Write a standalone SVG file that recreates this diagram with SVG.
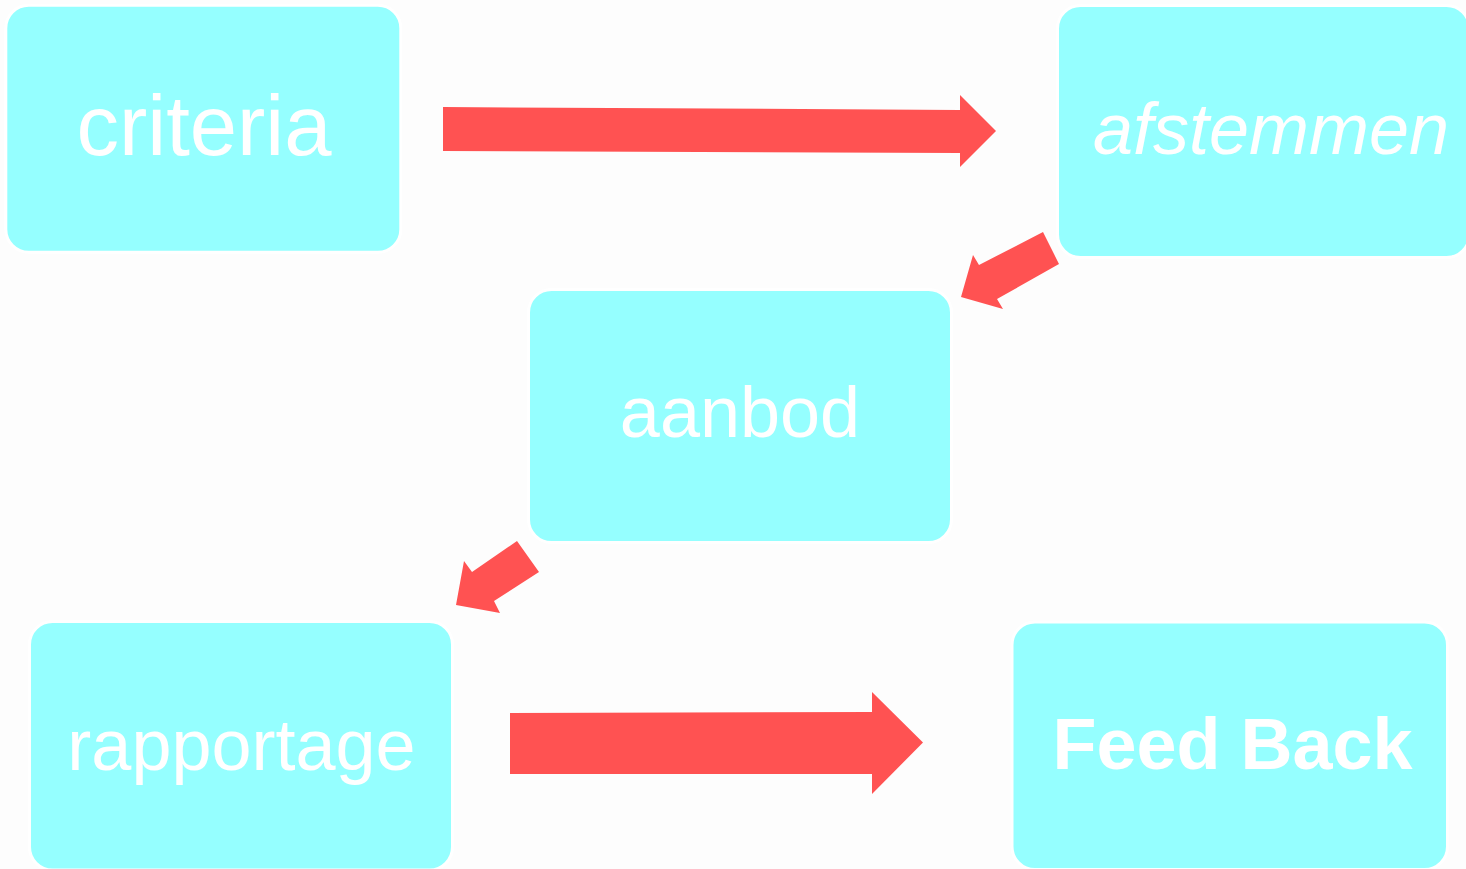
<svg xmlns="http://www.w3.org/2000/svg" width="1466" height="869" viewBox="0 0 1466 869">
<style>
.box{fill:#95ffff;stroke:#ffffff;stroke-width:3}
.lbl{fill:#ffffff;font-family:"Liberation Sans",Arial,sans-serif;font-size:72px;text-anchor:middle}
.arr{fill:#ff5252}
</style>
<rect x="0" y="0" width="1466" height="869" fill="#fdfdfd"/>
<g id="node-criteria">
<rect class="box" x="5.8" y="5.2" width="395" height="247" rx="23"/>
<text class="lbl" x="204" y="155" style="font-size:85px">criteria</text>
</g>
<g id="node-afstemmen">
<rect class="box" x="1057.5" y="5.5" width="412" height="252" rx="23"/>
<text class="lbl" x="1271" y="154" font-style="italic">afstemmen</text>
</g>
<g id="node-aanbod">
<rect class="box" x="528.5" y="289.5" width="423" height="253" rx="23"/>
<text class="lbl" x="740" y="437">aanbod</text>
</g>
<g id="node-rapportage">
<rect class="box" x="29.5" y="621.5" width="423" height="248.5" rx="23"/>
<text class="lbl" x="241.5" y="770">rapportage</text>
</g>
<g id="node-feedback">
<rect class="box" x="1012" y="622" width="435.5" height="247.5" rx="23"/>
<text class="lbl" x="1232.5" y="769" font-weight="bold">Feed Back</text>
</g>
<g id="connectors">
<polygon class="arr" points="443,107 960,110 960,95 996,131 960,167 960,153 443,151"/>
<polygon class="arr" points="1043,232 1059,264 997,299 1003,309 961,297 973,255 979,265"/>
<polygon class="arr" points="517,541 539,572 494,601 500,613 456,605 464,561 472,572"/>
<polygon class="arr" points="510,713 872,712 872,692 923,742.5 872,794 872,774 510,774"/>
</g>
</svg>
